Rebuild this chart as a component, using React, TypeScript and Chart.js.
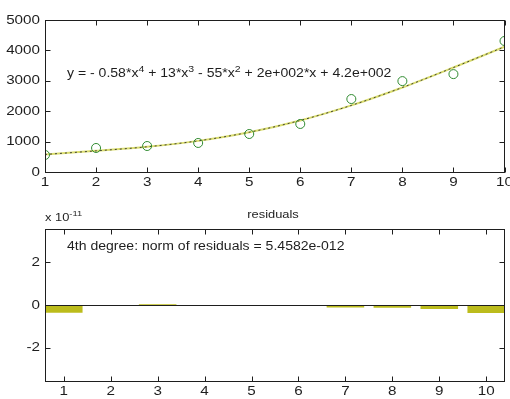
import React, { useEffect, useRef } from "react";
import { Chart, registerables } from "chart.js";
Chart.register(...registerables);

const X_VALUES = [1, 2, 3, 4, 5, 6, 7, 8, 9, 10];
const Y_DATA = [560, 790, 855, 955, 1250, 1580, 2400, 2990, 3220, 4310];
const Y_FIT = [577, 695, 829, 1024, 1308, 1696, 2191, 2780, 3437, 4120];
const Y_TICKS = [0, 1000, 2000, 3000, 4000, 5000];
const RESIDUALS = [-0.36, 0.0, 0.03, -0.01, -0.04, -0.05, -0.12, -0.13, -0.19, -0.37]; // x 1e-11
const RES_TICKS = [-2, 0, 2];
const RES_EXPONENT = "-11";
const EQUATION = [
  { t: "y = - 0.58*x", sup: false },
  { t: "4", sup: true },
  { t: " + 13*x", sup: false },
  { t: "3", sup: true },
  { t: " - 55*x", sup: false },
  { t: "2", sup: true },
  { t: " + 2e+002*x + 4.2e+002", sup: false },
];
const RES_TITLE = "residuals";
const RES_NOTE = "4th degree: norm of residuals = 5.4582e-012";

const FONT = "'Liberation Sans', Arial, sans-serif";
const FS = 12;
const SX = 1.17;
const INK = "#1e1e1e";

function drawRich(
  ctx: CanvasRenderingContext2D,
  x: number,
  y: number,
  parts: { t: string; sup: boolean }[],
  size: number,
  align: "left" | "center" | "right" = "left",
  baseline: CanvasTextBaseline = "alphabetic"
) {
  ctx.save();
  ctx.translate(x, y);
  ctx.scale(SX, 1);
  ctx.textBaseline = baseline;
  ctx.textAlign = "left";
  let total = 0;
  for (const p of parts) {
    ctx.font = `${p.sup ? Math.round(size * 0.72) : size}px ${FONT}`;
    total += ctx.measureText(p.t).width;
  }
  let cx = align === "left" ? 0 : align === "center" ? -total / 2 : -total;
  for (const p of parts) {
    if (p.sup) {
      ctx.font = `${Math.round(size * 0.72)}px ${FONT}`;
      ctx.fillText(p.t, cx, -size * 0.42);
    } else {
      ctx.font = `${size}px ${FONT}`;
      ctx.fillText(p.t, cx, 0);
    }
    cx += ctx.measureText(p.t).width;
  }
  ctx.restore();
}

const boxPlugin = {
  id: "matlabBox",
  afterDatasetsDraw(chart: any, _args: any, opts: any) {
    const { ctx, chartArea: a, scales } = chart;
    ctx.save();
    ctx.strokeStyle = INK;
    ctx.lineWidth = 1;
    const L = Math.round(a.left) + 0.5;
    const R = Math.round(a.right) - 0.5;
    const T = Math.round(a.top) + 0.5;
    const B = Math.round(a.bottom) + 0.5;
    if (opts.zeroLine) {
      const y0 = Math.round(scales.y.getPixelForValue(0)) + 0.5;
      ctx.beginPath();
      ctx.moveTo(L, y0);
      ctx.lineTo(R, y0);
      ctx.stroke();
    }
    ctx.strokeRect(L, T, R - L, B - T);
    const tl = 5;
    ctx.beginPath();
    for (const t of scales.x.ticks) {
      const px = Math.round(scales.x.getPixelForValue(t.value)) + 0.5;
      ctx.moveTo(px, B);
      ctx.lineTo(px, B - tl);
      ctx.moveTo(px, T);
      ctx.lineTo(px, T + tl);
    }
    for (const t of scales.y.ticks) {
      const py = Math.round(scales.y.getPixelForValue(t.value)) + 0.5;
      ctx.moveTo(L, py);
      ctx.lineTo(L + tl, py);
      ctx.moveTo(R, py);
      ctx.lineTo(R - tl, py);
    }
    ctx.stroke();
    ctx.fillStyle = INK;
    // tick labels
    for (const t of scales.x.ticks) {
      const px = scales.x.getPixelForValue(t.value);
      drawRich(ctx, px, a.bottom + 10, [{ t: String(t.value), sup: false }], FS + 1, "center", "middle");
    }
    for (const t of scales.y.ticks) {
      const py = scales.y.getPixelForValue(t.value);
      drawRich(ctx, a.left - 5, py, [{ t: String(t.value), sup: false }], FS + 1, "right", "middle");
    }
    if (opts.equation) {
      drawRich(ctx, a.left + 22, a.top + 57, EQUATION, FS);
    }
    if (opts.residualText) {
      drawRich(ctx, a.left + 22, a.top + 21, [{ t: RES_NOTE, sup: false }], FS);
      drawRich(ctx, (a.left + a.right) / 2 - 2, a.top - 11, [{ t: RES_TITLE, sup: false }], FS - 1, "center");
      drawRich(ctx, a.left, a.top - 8, [{ t: "x 10", sup: false }, { t: RES_EXPONENT, sup: true }], FS - 1);
    }
    ctx.restore();
  },
};

function axisCommon(ticksArr: number[], size: (s: any) => void) {
  return {
    afterBuildTicks: (s: any) => {
      s.ticks = ticksArr.map((v) => ({ value: v }));
    },
    afterFit: size,
    grid: { display: false, drawTicks: false },
    border: { display: false },
    ticks: { display: false, autoSkip: false },
  };
}

export default function App() {
  const topRef = useRef<HTMLCanvasElement>(null);
  const botRef = useRef<HTMLCanvasElement>(null);

  useEffect(() => {
    const top = new Chart(topRef.current!, {
      type: "scatter",
      data: {
        datasets: [
          {
            data: X_VALUES.map((x, i) => ({ x, y: Y_DATA[i] })),
            showLine: false,
            pointRadius: 4.5,
            pointBorderWidth: 1,
            pointBorderColor: "#2f8a2f",
            pointBackgroundColor: "rgba(0,0,0,0)",
          },
          {
            data: X_VALUES.map((x, i) => ({ x, y: Y_FIT[i] })),
            showLine: true,
            pointRadius: 0,
            borderColor: "rgba(40,40,40,0.85)",
            borderWidth: 1,
            borderDash: [2, 3],
            cubicInterpolationMode: "monotone",
          },
          {
            data: X_VALUES.map((x, i) => ({ x, y: Y_FIT[i] })),
            showLine: true,
            pointRadius: 0,
            borderColor: "rgba(215,218,95,0.9)",
            borderWidth: 2,
            cubicInterpolationMode: "monotone",
          },
        ],
      },
      options: {
        animation: false,
        responsive: true,
        maintainAspectRatio: false,
        layout: { padding: { top: 20, right: 5, left: 0, bottom: 0 } },
        plugins: { legend: { display: false }, tooltip: { enabled: false }, matlabBox: { equation: true } } as any,
        scales: {
          x: { type: "linear", min: 1, max: 10, ...axisCommon(X_VALUES, (s) => { s.height = 28; }) } as any,
          y: { type: "linear", min: 0, max: 5000, ...axisCommon(Y_TICKS, (s) => { s.width = 45; }) } as any,
        },
      },
      plugins: [boxPlugin],
    });

    const bot = new Chart(botRef.current!, {
      type: "bar",
      data: {
        datasets: [
          {
            data: X_VALUES.map((x, i) => ({ x, y: RESIDUALS[i] })),
            backgroundColor: "#bcbc1c",
            borderWidth: 0,
            barPercentage: 0.8,
            categoryPercentage: 1,
          },
        ],
      },
      options: {
        animation: false,
        responsive: true,
        maintainAspectRatio: false,
        layout: { padding: { top: 29, right: 5, left: 0, bottom: 0 } },
        plugins: { legend: { display: false }, tooltip: { enabled: false }, matlabBox: { zeroLine: true, residualText: true } } as any,
        scales: {
          x: { type: "linear", offset: false, min: 0.6, max: 10.4, ...axisCommon(X_VALUES, (s) => { s.height = 18; }) } as any,
          y: { type: "linear", min: -3.55, max: 3.55, ...axisCommon(RES_TICKS, (s) => { s.width = 45; }) } as any,
        },
      },
      plugins: [boxPlugin],
    });

    return () => {
      top.destroy();
      bot.destroy();
    };
  }, []);

  return (
    <div style={{ position: "absolute", left: 0, top: 0, width: 510, height: 399, background: "#fff" }}>
      <div style={{ position: "absolute", left: 0, top: 0, width: 510, height: 200 }}>
        <canvas ref={topRef} />
      </div>
      <div style={{ position: "absolute", left: 0, top: 200, width: 510, height: 199 }}>
        <canvas ref={botRef} />
      </div>
    </div>
  );
}
